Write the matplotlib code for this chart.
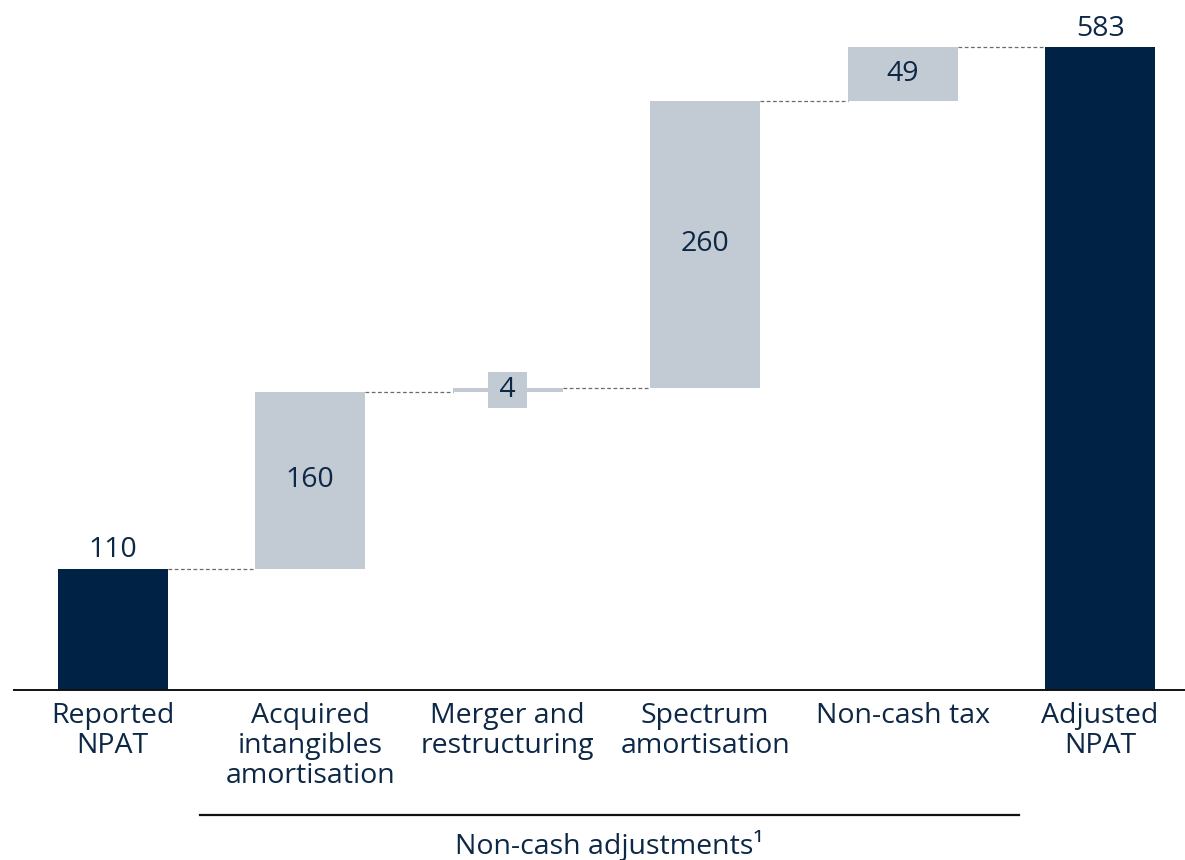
"""Waterfall: reported NPAT to adjusted NPAT through non-cash adjustments."""
import matplotlib
matplotlib.use("Agg")
import matplotlib.pyplot as plt
import matplotlib.transforms as mtransforms

NAVY, GREY, INK, DASH = "#002244", "#c2cad3", "#0d2846", "#6b6b6b"

categories = ["Reported\nNPAT", "Acquired\nintangibles\namortisation",
              "Merger and\nrestructuring", "Spectrum\namortisation",
              "Non-cash tax", "Adjusted\nNPAT"]
values = [110, 160, 4, 260, 49, 583]
is_total = [True, False, False, False, False, True]
group_label = "Non-cash adjustments¹"

plt.rcParams.update({
    "font.family": ["Open Sans", "DejaVu Sans"],
    "text.color": INK,
})
FS = 20.5

fig = plt.figure(figsize=(11.85, 8.6), dpi=100)
ax = fig.add_axes([0.0118, 0.1977, 0.9882, 0.8023])

width = 0.556
bottoms, tops = [], []
running = 0
for v, tot in zip(values, is_total):
    if tot:
        bottoms.append(0)
        tops.append(v)
        running = v
    else:
        bottoms.append(running)
        running += v
        tops.append(running)

x = list(range(len(values)))
for i, (v, b, tot) in enumerate(zip(values, bottoms, is_total)):
    ax.bar(i, v, bottom=b, width=width, color=NAVY if tot else GREY, linewidth=0)

# connectors between bars
for i in range(len(values) - 1):
    ax.plot([i + width / 2, i + 1 - width / 2], [tops[i], tops[i]],
            color=DASH, lw=0.9, ls=(0, (3, 2)))

# value labels
for i, (v, b, tot) in enumerate(zip(values, bottoms, is_total)):
    if tot:
        ax.annotate(f"{v}", (i, b + v), xytext=(0, 3), textcoords="offset points",
                    ha="center", va="bottom", fontsize=FS, color=INK)
    elif v < 20:
        ax.text(i, b + v / 2, f" {v} ", ha="center", va="center", fontsize=FS,
                color=INK, bbox=dict(boxstyle="square,pad=0.14", fc=GREY, ec="none"))
    else:
        ax.text(i, b + v / 2, f"{v}", ha="center", va="center", fontsize=FS,
                color=INK)

ax.set_xlim(-0.5, 5.43)
ax.set_ylim(0, 625.6)
ax.set_xticks(x)
ax.set_xticklabels(categories, fontsize=FS, color=INK, linespacing=1.09)
ax.tick_params(axis="x", length=0, pad=9)
ax.set_yticks([])
for s in ("top", "right", "left"):
    ax.spines[s].set_visible(False)
ax.spines["bottom"].set_color("#111111")
ax.spines["bottom"].set_linewidth(1.4)

# group bracket under the adjustment categories
trans = mtransforms.blended_transform_factory(ax.transData, ax.transAxes)
ax.plot([0.44, 4.59], [-0.181, -0.181], transform=trans, color="#111111",
        lw=1.6, clip_on=False)
ax.text((0.44 + 4.59) / 2, -0.226, group_label, transform=trans, ha="center",
        va="center", fontsize=FS, color=INK)

fig.savefig("out.png", dpi=100, facecolor="white")
